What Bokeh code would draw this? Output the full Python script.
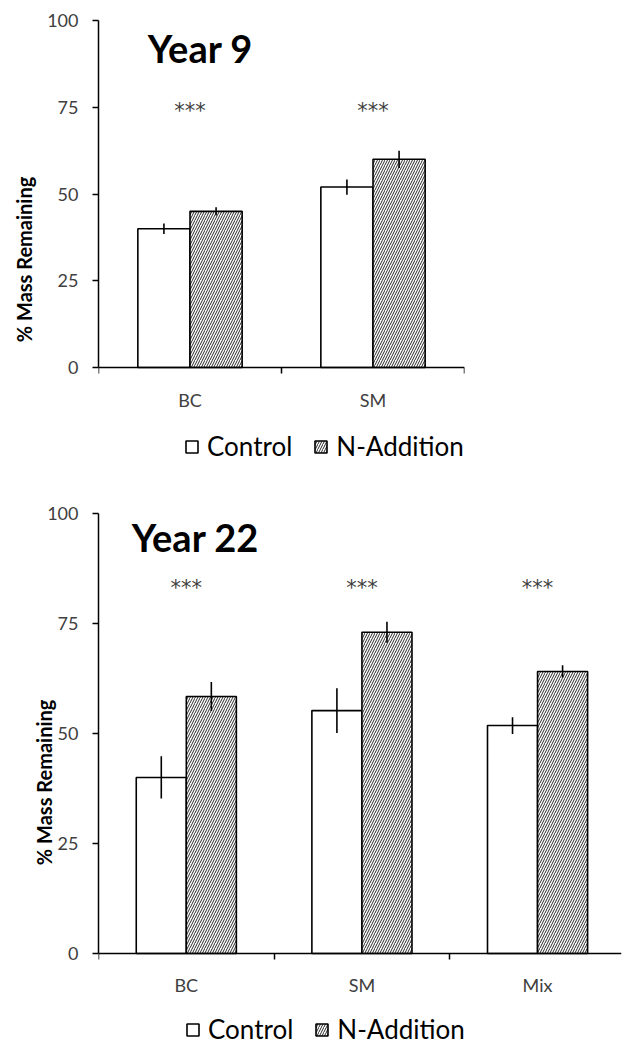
from bokeh.plotting import figure
from bokeh.models import Range1d, FixedTicker, Legend, LegendItem, ColumnDataSource
from bokeh.layouts import column
from bokeh.core.properties import value
from bokeh.embed import file_html
from bokeh.resources import INLINE

# ---------------- data ----------------
top_title = "Year 9"
top_categories = ["BC", "SM"]
top_control = [40.0, 52.0]
top_control_err = [1.5, 2.2]
top_nadd = [45.0, 60.0]
top_nadd_err = [1.2, 2.5]
top_sig = ["***", "***"]

bot_title = "Year 22"
bot_categories = ["BC", "SM", "Mix"]
bot_control = [40.0, 55.2, 51.8]
bot_control_err = [4.8, 5.1, 1.9]
bot_nadd = [58.4, 73.0, 64.1]
bot_nadd_err = [3.3, 2.4, 1.4]
bot_sig = ["***", "***", "***"]

y_ticks = [0, 25, 50, 75, 100]
series_names = ["Control", "N-Addition"]

FONT = "Lato"
BAR_W = 0.285


def make_panel(title, cats, ctrl, ctrl_err, nadd, nadd_err, sig, sig_y,
               width, height, b_top, b_right, x_end, y_start,
               ylabel, ylabel_standoff, title_pos, legend_pos):
    n = len(cats)
    centers = [i + 0.5 for i in range(n)]
    bounds = list(range(n + 1))
    p = figure(width=width, height=height, output_backend="svg", toolbar_location=None,
               x_range=Range1d(0, x_end), y_range=Range1d(y_start, 100),
               min_border_left=98, min_border_top=b_top, min_border_bottom=0,
               min_border_right=b_right)
    p.grid.visible = False
    p.outline_line_color = None
    p.background_fill_color = "white"

    xc = [c - BAR_W / 2 for c in centers]
    xn = [c + BAR_W / 2 for c in centers]

    src_c = ColumnDataSource(dict(x=xc, top=ctrl,
                                  lo=[v - e for v, e in zip(ctrl, ctrl_err)],
                                  hi=[v + e for v, e in zip(ctrl, ctrl_err)]))
    src_n = ColumnDataSource(dict(x=xn, top=nadd,
                                  lo=[v - e for v, e in zip(nadd, nadd_err)],
                                  hi=[v + e for v, e in zip(nadd, nadd_err)]))

    r_c = p.vbar(x="x", top="top", width=BAR_W, source=src_c, fill_color="white",
                 line_color="black", line_width=1.6)
    r_n = p.vbar(x="x", top="top", width=BAR_W, source=src_n, fill_color="white",
                 line_color="black", line_width=1.6, hatch_pattern="/",
                 hatch_color="#2a2a2a", hatch_scale=5, hatch_weight=1.0)
    p.segment(x0="x", y0="lo", x1="x", y1="hi", source=src_c, line_color="black", line_width=1.6)
    p.segment(x0="x", y0="lo", x1="x", y1="hi", source=src_n, line_color="black", line_width=1.6)

    # significance stars
    p.text(x=centers, y=[sig_y] * n, text=sig, text_font=value("DejaVu Sans"),
           text_font_size="21px", text_align="center", text_baseline="middle",
           text_color="#404040")

    # panel title
    p.text(x=[title_pos[0]], y=[title_pos[1]], text=[title], text_font=value(FONT),
           text_font_style="bold", text_font_size="38px", text_align="center",
           text_baseline="alphabetic", text_color="black")

    # x axis, drawn at y = 0
    xa = p.xaxis[0]
    xa.fixed_location = 0
    xa.ticker = FixedTicker(ticks=centers, minor_ticks=bounds)
    xa.major_label_overrides = {c: lab for c, lab in zip(centers, cats)}
    xa.major_tick_out = 0
    xa.major_tick_in = 0
    xa.minor_tick_out = 6
    xa.minor_tick_in = 0
    xa.minor_tick_line_color = "black"
    xa.minor_tick_line_width = 1.5
    xa.axis_line_color = "black"
    xa.axis_line_width = 1.5
    xa.major_label_text_font = FONT
    xa.major_label_text_font_size = "18px"
    xa.major_label_text_color = "#404040"
    xa.major_label_standoff = 15

    # y axis
    ya = p.yaxis[0]
    ya.bounds = (0, 100)
    ya.ticker = FixedTicker(ticks=y_ticks, minor_ticks=[])
    ya.major_tick_out = 6
    ya.major_tick_in = 0
    ya.major_tick_line_color = "black"
    ya.major_tick_line_width = 1.5
    ya.axis_line_color = "black"
    ya.axis_line_width = 1.5
    ya.major_label_text_font = FONT
    ya.major_label_text_font_size = "18px"
    ya.major_label_text_color = "#404040"
    ya.major_label_standoff = 14
    ya.axis_label = ylabel
    ya.axis_label_text_font = FONT
    ya.axis_label_text_font_style = "bold"
    ya.axis_label_text_font_size = "20px"
    ya.axis_label_text_color = "black"
    ya.axis_label_standoff = ylabel_standoff

    legend = Legend(items=[LegendItem(label=series_names[0], renderers=[r_c]),
                           LegendItem(label=series_names[1], renderers=[r_n])],
                    location=legend_pos, orientation="horizontal",
                    padding=0, margin=0, spacing=21,
                    border_line_alpha=0, background_fill_alpha=0,
                    glyph_width=15, glyph_height=15, label_standoff=8,
                    label_text_font=FONT, label_text_font_size="26px",
                    label_text_color="black")
    p.add_layout(legend)
    return p


p1 = make_panel(top_title, top_categories, top_control, top_control_err, top_nadd, top_nadd_err,
                top_sig, 74, width=480, height=498, b_top=20, b_right=16,
                x_end=2, y_start=-37.75, ylabel="% Mass Remaining", ylabel_standoff=8,
                title_pos=(0.557, 92.2), legend_pos=(86, 36))
p2 = make_panel(bot_title, bot_categories, bot_control, bot_control_err, bot_nadd, bot_nadd_err,
                bot_sig, 83, width=637, height=548, b_top=15, b_right=0,
                x_end=2.978, y_start=-21.14, ylabel="%  Mass Remaining", ylabel_standoff=-12,
                title_pos=(0.552, 94.6), legend_pos=(87, 1))

layout = column(p1, p2, spacing=0)
open("out.html", "w").write(file_html(layout, INLINE))
